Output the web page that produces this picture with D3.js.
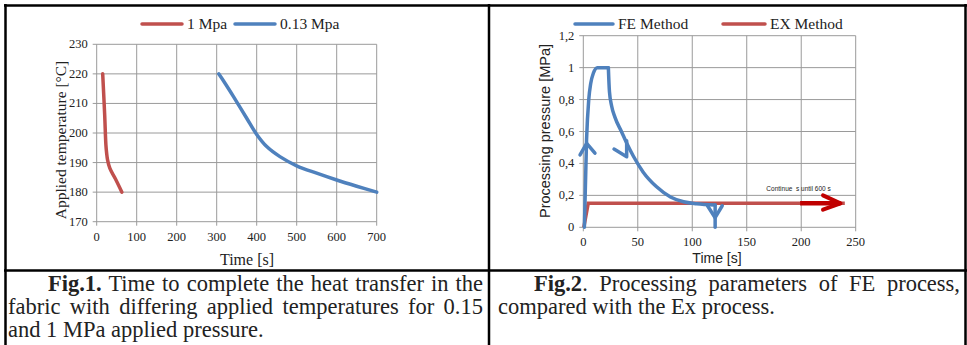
<!DOCTYPE html>
<html lang="en">
<head>
<meta charset="UTF-8">
<title>Fig 1 and Fig 2</title>
<script src="https://d3js.org/d3.v7.min.js"></script>
<style>
  body { margin:0; background:#fff; }
  svg text { font-family:"Liberation Serif","Times New Roman",Times,serif; fill:#222; }
  svg text.sans { font-family:"Liberation Sans",Arial,sans-serif; }
</style>
</head>
<body>
<svg id="page" width="967" height="345"></svg>
<script>
// ---- data: Fig.1 (applied temperature vs time) ----
var oneMpaTime  = [15, 20, 23, 25, 27, 33, 46, 63];
var oneMpaTemp  = [220, 206, 196, 193, 191, 188, 184.7, 180];
var lowMpaTime  = [305, 320, 342, 375, 400, 425, 458, 500, 550, 600, 650, 700];
var lowMpaTemp  = [220, 217, 212.3, 205, 199.5, 195.4, 192, 188.9, 186.4, 184.1, 182, 180];
var fig1XTicks  = [0, 100, 200, 300, 400, 500, 600, 700];
var fig1YTicks  = [170, 180, 190, 200, 210, 220, 230];
var fig1Legend  = ["1 Mpa", "0.13 Mpa"];

// ---- data: Fig.2 (processing pressure vs time) ----
var feRiseTime  = [1, 3, 5, 6.8, 9.2, 12.9, 23];
var feRisePress = [0, 0.55, 0.8, 0.9, 0.965, 1.0, 1.0];
var feDecayTime  = [23, 24, 26, 29, 35, 40, 46, 55, 67, 80, 92, 104, 121];
var feDecayPress = [1.0, 0.85, 0.76, 0.69, 0.6, 0.525, 0.445, 0.345, 0.255, 0.19, 0.16, 0.148, 0.14];
var feDropTime  = [121, 121];
var feDropPress = [0.14, 0];
var exTime      = [0.5, 4.5, 240];
var exPress     = [0, 0.15, 0.15];
var feArrowUp   = [[-3, 0.453], [3.1, 0.526], [10.7, 0.464]];
var feArrowMid  = [[28.2, 0.49], [39.8, 0.442], [39.8, 0.542]];
var feArrowEnd  = [[114, 0.135], [121, 0.06], [127.5, 0.135]];
var exArrowLine = [[199, 0.15], [236, 0.15]];
var exArrowHead = [[220, 0.2], [236, 0.15], [220, 0.11]];
var fig2XTicks  = [0, 50, 100, 150, 200, 250];
var fig2YTicks  = [0, 0.2, 0.4, 0.6, 0.8, 1.0, 1.2];
var fig2Legend  = ["FE Method", "EX Method"];
var fig2Note    = "Continue  s until 600 s";

var red = "#c0504d", blue = "#4f81bd", darkRed = "#c00000", grid = "#9a9a9a";
var svg = d3.select("#page");

// table lines
var table = svg.append("g").attr("stroke", "#000").attr("stroke-width", 2.5);
table.append("line").attr("x1", 4).attr("x2", 967).attr("y1", 5.5).attr("y2", 5.5);
table.append("line").attr("x1", 5.5).attr("x2", 5.5).attr("y1", 4).attr("y2", 345);
table.append("line").attr("x1", 965.5).attr("x2", 965.5).attr("y1", 4).attr("y2", 345);
table.append("line").attr("x1", 489).attr("x2", 489).attr("y1", 4).attr("y2", 345);
table.append("line").attr("x1", 4).attr("x2", 967).attr("y1", 270.5).attr("y2", 270.5);

function drawGrid(g, x, y, xt, yt, fmt) {
  g.append("g").selectAll("line").data(xt).enter().append("line")
    .attr("x1", function(d){return x(d);}).attr("x2", function(d){return x(d);})
    .attr("y1", y.range()[1]).attr("y2", y.range()[0] + 4)
    .attr("stroke", grid).attr("stroke-width", 1);
  g.append("g").selectAll("line").data(yt).enter().append("line")
    .attr("x1", x.range()[0] - 4).attr("x2", x.range()[1])
    .attr("y1", function(d){return y(d);}).attr("y2", function(d){return y(d);})
    .attr("stroke", grid).attr("stroke-width", 1);
  g.append("g").selectAll("text").data(xt).enter().append("text")
    .attr("x", function(d){return x(d);}).attr("y", y.range()[0] + 19)
    .attr("text-anchor", "middle").attr("font-size", 12.5).text(function(d){return fmt(d);});
  g.append("g").selectAll("text").data(yt).enter().append("text")
    .attr("x", x.range()[0] - 9).attr("y", function(d){return y(d) + 4;})
    .attr("text-anchor", "end").attr("font-size", 12.5).text(function(d){return fmt(d);});
}

function legendItem(g, x0, y0, color, label, lineLen) {
  g.append("line").attr("x1", x0).attr("x2", x0 + lineLen).attr("y1", y0).attr("y2", y0)
    .attr("stroke", color).attr("stroke-width", 3.5).attr("stroke-linecap", "round");
  g.append("text").attr("x", x0 + lineLen + 5).attr("y", y0 + 5).attr("font-size", 15.5).text(label);
}

// ---- Fig.1 chart ----
var x1 = d3.scaleLinear().domain([0, 700]).range([96.7, 376.7]);
var y1 = d3.scaleLinear().domain([170, 230]).range([221.7, 44.3]);
var g1 = svg.append("g");
drawGrid(g1, x1, y1, fig1XTicks, fig1YTicks, function(d){return d;});
var line1 = d3.line().x(function(d){return x1(d[0]);}).y(function(d){return y1(d[1]);}).curve(d3.curveCatmullRom.alpha(0.5));
g1.append("path").datum(d3.zip(oneMpaTime, oneMpaTemp)).attr("d", line1)
  .attr("fill", "none").attr("stroke", red).attr("stroke-width", 3.5).attr("stroke-linecap", "round");
g1.append("path").datum(d3.zip(lowMpaTime, lowMpaTemp)).attr("d", line1)
  .attr("fill", "none").attr("stroke", blue).attr("stroke-width", 3.5).attr("stroke-linecap", "round");
legendItem(g1, 142, 24, red, fig1Legend[0], 40);
legendItem(g1, 235, 24, blue, fig1Legend[1], 40);
g1.append("text").attr("transform", "translate(66,140) rotate(-90)").attr("text-anchor", "middle")
  .attr("font-size", 15.5).text("Applied temperature [\u00B0C]");
g1.append("text").attr("x", 247).attr("y", 265).attr("text-anchor", "middle").attr("font-size", 16).text("Time [s]");

// ---- Fig.2 chart ----
var x2 = d3.scaleLinear().domain([0, 250]).range([583.3, 855.7]);
var y2 = d3.scaleLinear().domain([0, 1.2]).range([227.3, 35.7]);
var g2 = svg.append("g");
drawGrid(g2, x2, y2, fig2XTicks, fig2YTicks, function(d){return d3.format("~g")(d).replace(".", ",");});
var line2 = d3.line().x(function(d){return x2(d[0]);}).y(function(d){return y2(d[1]);});
var smooth2 = d3.line().x(function(d){return x2(d[0]);}).y(function(d){return y2(d[1]);}).curve(d3.curveMonotoneX);
g2.append("path").datum(d3.zip(exTime, exPress)).attr("d", line2)
  .attr("fill", "none").attr("stroke", red).attr("stroke-width", 3.5);
var feParts = [
  [d3.zip(feRiseTime, feRisePress), smooth2],
  [d3.zip(feDecayTime, feDecayPress), smooth2],
  [d3.zip(feDropTime, feDropPress), line2]
];
feParts.forEach(function(p) {
  g2.append("path").datum(p[0]).attr("d", p[1]).attr("fill", "none").attr("stroke", blue)
    .attr("stroke-width", 3.5).attr("stroke-linejoin", "round").attr("stroke-linecap", "round");
});
[feArrowUp, feArrowMid, feArrowEnd].forEach(function(a) {
  g2.append("path").datum(a).attr("d", line2).attr("fill", "none").attr("stroke", blue)
    .attr("stroke-width", 3.5).attr("stroke-linecap", "round").attr("stroke-linejoin", "round");
});
g2.append("path").datum(exArrowLine).attr("d", line2).attr("fill", "none").attr("stroke", darkRed).attr("stroke-width", 4.5);
g2.append("path").datum(exArrowHead).attr("d", line2).attr("fill", "none").attr("stroke", darkRed)
  .attr("stroke-width", 4).attr("stroke-linecap", "round").attr("stroke-linejoin", "round");
g2.append("text").attr("class", "sans").attr("x", x2(168)).attr("y", y2(0.225))
  .attr("font-size", 6.5).attr("xml:space", "preserve").text(fig2Note);
legendItem(g2, 575, 24, blue, fig2Legend[0], 38);
legendItem(g2, 723, 24, red, fig2Legend[1], 42);
g2.append("text").attr("class", "sans").attr("transform", "translate(550,131) rotate(-90)")
  .attr("text-anchor", "middle").attr("font-size", 14.5).text("Processing pressure [MPa]");
g2.append("text").attr("class", "sans").attr("x", 717).attr("y", 263).attr("text-anchor", "middle")
  .attr("font-size", 14).text("Time [s]");

// ---- captions (justified lines) ----
var capSize = 22.5;
function captionLine(x0, x1, y, parts, justify) {
  var t = svg.append("text").attr("x", x0).attr("y", y).attr("font-size", capSize).attr("xml:space", "preserve");
  parts.forEach(function(p) {
    t.append("tspan").attr("font-weight", p[1] ? "bold" : "normal").text(p[0]);
  });
  if (justify) {
    var w = t.node().getComputedTextLength();
    var spaces = parts.map(function(p){return p[0];}).join("").split(" ").length - 1;
    if (spaces > 0) t.style("word-spacing", ((x1 - x0 - w) / spaces) + "px");
  }
}
captionLine(48, 483, 291, [["Fig.1.", true], [" Time to complete the heat transfer in the", false]], true);
captionLine(8, 483, 314, [["fabric with differing applied temperatures for 0.15", false]], true);
captionLine(8, 483, 337, [["and 1 MPa applied pressure.", false]], false);
captionLine(534, 960, 291, [["Fig.2", true], [". Processing parameters of FE process,", false]], true);
captionLine(498, 960, 314, [["compared with the Ex process.", false]], false);
</script>
</body>
</html>
